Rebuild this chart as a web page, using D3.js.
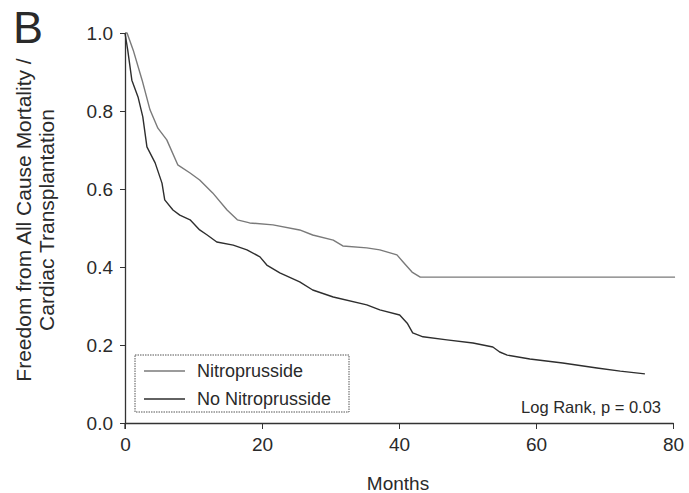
<!DOCTYPE html>
<html><head><meta charset="utf-8">
<script src="https://cdn.jsdelivr.net/npm/d3@7"></script>
<style>
html,body{margin:0;padding:0;background:#fff;}
text{font-family:"Liberation Sans",Arial,Helvetica,sans-serif;fill:#2a2a2a;}
</style></head>
<body>
<svg id="chart" width="689" height="493"></svg>
<script>
// ---- data ----
const seriesNames = ["Nitroprusside", "No Nitroprusside"];
const nitroMonths = [0, 0.3, 1.2, 2.5, 3.65, 4.8, 6.1, 7.7, 9.5, 10.9, 12.8, 14.9, 16.4, 18.2, 21.6, 25.5, 27.4, 30.4, 31.8, 35.3, 37.2, 39.7, 40.6, 41.9, 43.1, 80.3];
const nitroSurv   = [1.0, 1.0, 0.956, 0.879, 0.803, 0.756, 0.726, 0.662, 0.641, 0.623, 0.590, 0.546, 0.521, 0.513, 0.508, 0.495, 0.482, 0.469, 0.454, 0.449, 0.444, 0.431, 0.413, 0.387, 0.374, 0.374];
const noNitroMonths = [0, 0.4, 1.0, 1.9, 2.6, 3.2, 4.4, 5.4, 5.8, 7.0, 8.0, 9.5, 10.9, 12.0, 13.4, 15.8, 17.8, 19.7, 20.7, 22.6, 25.5, 27.4, 30.4, 35.3, 37.2, 40.1, 41.2, 42.0, 43.5, 47.0, 50.8, 53.7, 54.7, 55.8, 59.1, 63.9, 68.9, 72.3, 75.9];
const noNitroSurv   = [1.0, 0.956, 0.879, 0.836, 0.785, 0.708, 0.667, 0.615, 0.572, 0.546, 0.533, 0.521, 0.495, 0.482, 0.464, 0.456, 0.444, 0.426, 0.405, 0.385, 0.362, 0.341, 0.323, 0.303, 0.290, 0.277, 0.256, 0.231, 0.221, 0.213, 0.205, 0.195, 0.182, 0.174, 0.164, 0.154, 0.141, 0.133, 0.126];
const xTicks = [0, 20, 40, 60, 80];
const yTicks = [0.0, 0.2, 0.4, 0.6, 0.8, 1.0];
const panelLabel = "B";
const xTitle = "Months";
const yTitleLines = ["Freedom from All Cause Mortality /", "Cardiac Transplantation"];
const statText = "Log Rank, p = 0.03";

// ---- drawing ----
const svg = d3.select("#chart");
const x = d3.scaleLinear().domain([0, 80]).range([125, 673]);
const y = d3.scaleLinear().domain([0, 1]).range([423, 33]);
const colors = ["#7a7a7a", "#2e2e2e"];

// axes
const yAxis = svg.append("g").attr("transform", `translate(${x(0)},0)`)
  .call(d3.axisLeft(y).tickValues(yTicks).tickFormat(d3.format(".1f")).tickSize(5).tickSizeOuter(0).tickPadding(7));
const xAxis = svg.append("g").attr("transform", `translate(0,${y(0)})`)
  .call(d3.axisBottom(x).tickValues(xTicks).tickFormat(d3.format("d")).tickSize(6).tickSizeOuter(0).tickPadding(9));
[yAxis, xAxis].forEach(g => {
  g.selectAll("path.domain").attr("stroke", "#333").attr("stroke-width", 1.3);
  g.selectAll(".tick line").attr("stroke", "#333").attr("stroke-width", 1);
  g.selectAll(".tick text").attr("font-size", 19).attr("font-family", "Liberation Sans, Arial, sans-serif").attr("fill", "#2a2a2a");
});
// y axis runs slightly below the x-axis like the reference
svg.append("line").attr("x1", x(0)).attr("x2", x(0)).attr("y1", y(0)).attr("y2", y(0) + 6).attr("stroke", "#333").attr("stroke-width", 1.3);

// curves
const line = d3.line().x(d => x(d[0])).y(d => y(d[1])).curve(d3.curveLinear);
const series = [
  d3.zip(nitroMonths, nitroSurv),
  d3.zip(noNitroMonths, noNitroSurv)
];
series.forEach((s, i) => {
  svg.append("path").datum(s).attr("d", line).attr("fill", "none")
    .attr("stroke", colors[i]).attr("stroke-width", 1.4).attr("stroke-linejoin", "round");
});

// legend
const lg = svg.append("g");
lg.append("rect").attr("x", 135).attr("y", 355).attr("width", 214).attr("height", 57)
  .attr("fill", "none").attr("stroke", "#555").attr("stroke-width", 1).attr("stroke-dasharray", "1.5,1");
seriesNames.forEach((n, i) => {
  const yy = 371 + i * 28;
  lg.append("line").attr("x1", 144).attr("x2", 185).attr("y1", yy).attr("y2", yy)
    .attr("stroke", colors[i]).attr("stroke-width", 1.3);
  lg.append("text").attr("x", 197).attr("y", yy + 6).attr("font-size", 18).text(n);
});

// texts
svg.append("text").attr("x", 661).attr("y", 413).attr("text-anchor", "end").attr("font-size", 16.5).text(statText);
svg.append("text").attr("x", 398).attr("y", 490).attr("text-anchor", "middle").attr("font-size", 19).text(xTitle);
svg.append("text").attr("x", 13).attr("y", 43).attr("font-size", 45).attr("fill", "#1a1a1a").text(panelLabel);
const yt = svg.append("text").attr("transform", "translate(31,220) rotate(-90)").attr("text-anchor", "middle").attr("font-size", 21);
yTitleLines.forEach((t, i) => {
  yt.append("tspan").attr("x", 0).attr("dy", i === 0 ? 0 : 23).text(t);
});
</script>
</body></html>
